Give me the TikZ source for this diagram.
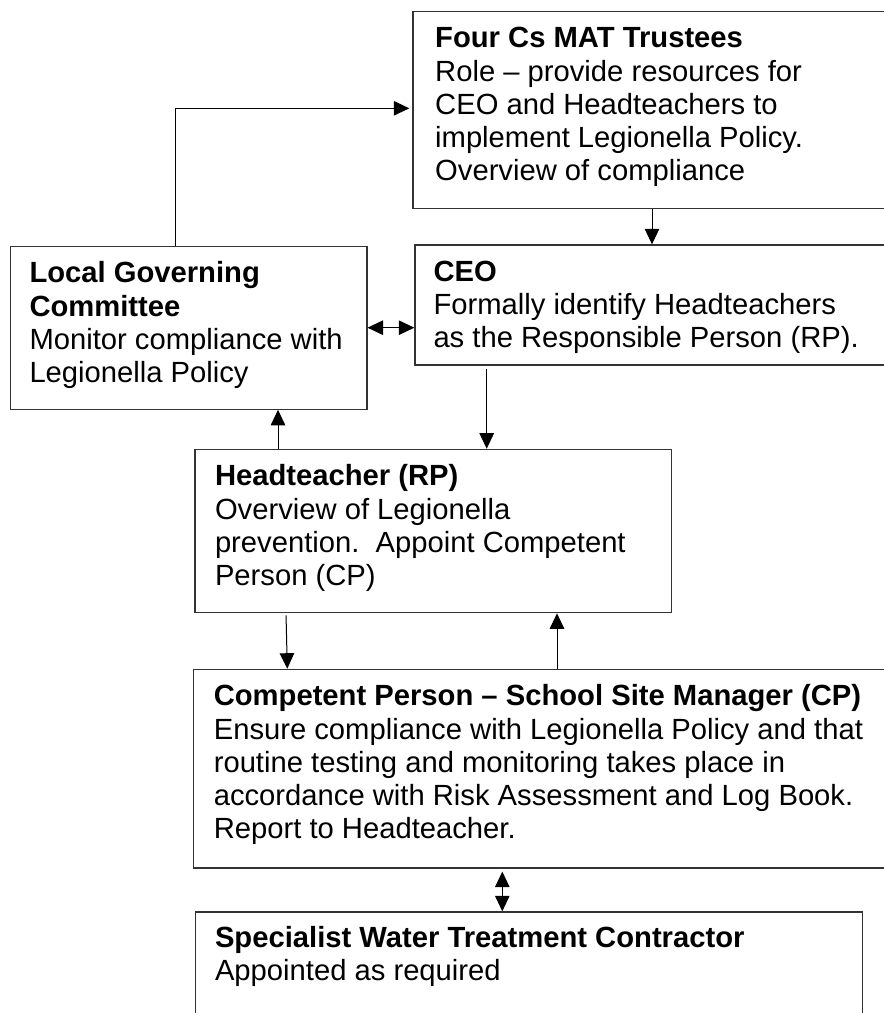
\documentclass[tikz,border=0pt]{standalone}
\usepackage{fontspec}
\setmainfont{Liberation Sans}
\usetikzlibrary{arrows.meta}
\definecolor{boxcol}{HTML}{333333}
\newcommand{\bxtext}[2]{\parbox[t]{1000pt}{\fontsize{29.2pt}{33.3pt}\selectfont\raggedright\textbf{#1}\\#2}}
\begin{document}
\begin{tikzpicture}[x=1pt,y=-1pt,
  box/.style={draw=boxcol,line width=1.3pt,rectangle,anchor=north west,inner sep=0pt},
  txt/.style={anchor=base west,inner sep=0pt},
  arr/.style={draw=black,line width=1pt,-{Triangle[length=15.5pt,width=14.5pt]}},
  darr/.style={draw=black,line width=1pt,{Triangle[length=15.5pt,width=14.5pt]}-{Triangle[length=15.5pt,width=14.5pt]}}]
\useasboundingbox (0,0) rectangle (884,1013);
\clip (0,0) rectangle (884,1013);
% boxes
\node[box,minimum width=500pt,minimum height=196.8pt] (trust) at (412.3,11) {};
\node[box,minimum width=356.6pt,minimum height=162.8pt] (lgc) at (9.6,245.7) {};
\node[box,minimum width=500pt,minimum height=119.9pt] (ceo) at (414.3,244.3) {};
\node[box,minimum width=476.6pt,minimum height=163.3pt] (ht) at (194.4,448.7) {};
\node[box,minimum width=700pt,minimum height=198.6pt] (cp) at (193,668.7) {};
\node[box,minimum width=666.7pt,minimum height=140pt] (spec) at (195,911.3) {};
% texts
\node[txt] (trustT) at ([shift={(22.7,36.7)}]trust.north west) {\bxtext{Four Cs MAT Trustees}{Role – provide resources for\\CEO and Headteachers to\\implement Legionella Policy.\\Overview of compliance}};
\node[txt] (lgcT) at ([shift={(19.7,37)}]lgc.north west) {\bxtext{Local Governing\\Committee}{Monitor compliance with\\Legionella Policy}};
\node[txt] (ceoT) at ([shift={(19,36.7)}]ceo.north west) {\bxtext{CEO}{Formally identify Headteachers\\as the Responsible Person (RP).}};
\node[txt] (htT) at ([shift={(20.4,37)}]ht.north west) {\bxtext{Headteacher (RP)}{Overview of Legionella\\prevention.\ \ Appoint Competent\\Person (CP)}};
\node[txt] (cpT) at ([shift={(20.6,37)}]cp.north west) {\bxtext{Competent Person – School Site Manager (CP)}{Ensure compliance with Legionella Policy and that\\routine testing and monitoring takes place in\\accordance with Risk Assessment and Log Book.\\Report to Headteacher.}};
\node[txt] (specT) at ([shift={(19.8,36.2)}]spec.north west) {\bxtext{Specialist Water Treatment Contractor}{Appointed as required}};
% connector helper coordinates
\coordinate (k1) at (175,108.3);
\coordinate (k2) at (652,0);
\coordinate (k3) at (0,327.7);
\coordinate (k4) at (486.7,0);
\coordinate (k5) at (278,0);
\coordinate (k6a) at (286,0);
\coordinate (k6b) at (287.3,0);
\coordinate (k7) at (557,0);
\coordinate (k8) at (502.3,0);
% connectors
\draw[arr,shorten >=3pt] (lgc.north -| k1) -- (k1) -- (trust.west |- k1);
\draw[arr] (trust.south -| k2) -- (ceo.north -| k2);
\draw[darr] (lgc.east |- k3) -- (ceo.west |- k3);
\draw[arr,shorten <=3.5pt] (ceo.south -| k4) -- (ht.north -| k4);
\draw[arr] (ht.north -| k5) -- (lgc.south -| k5);
\draw[arr,shorten <=2pt] (ht.south -| k6a) -- (cp.north -| k6b);
\draw[arr] (cp.north -| k7) -- (ht.south -| k7);
\draw[darr,shorten <=3pt] (cp.south -| k8) -- (spec.north -| k8);
\end{tikzpicture}
\end{document}
